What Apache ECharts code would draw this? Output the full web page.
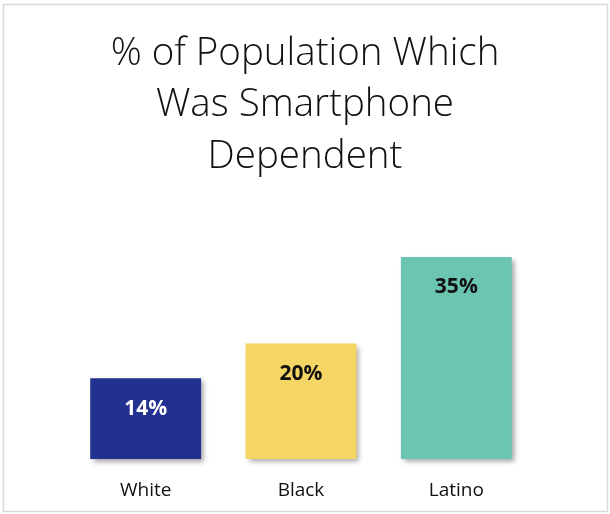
<!DOCTYPE html>
<html><head><meta charset="utf-8">
<script src="https://cdn.jsdelivr.net/npm/echarts@6/dist/echarts.min.js"></script>
<style>html,body{margin:0;padding:0;background:#fff}#c{width:610px;height:514px}</style>
</head><body><div id="c"></div>
<script>
const categories = ["White", "Black", "Latino"];
const values = [14, 20, 35];
const barColors = ["#22318F", "#F5D664", "#6BC5B0"];
const titleText = "% of Population Which\nWas Smartphone\nDependent";

const chart = echarts.init(document.getElementById('c'), null, {renderer: 'canvas'});
chart.setOption({
  animation: false,
  title: {
    text: titleText, left: 'center', top: 23,
    textStyle: {fontFamily: 'Open Sans', fontWeight: 300, fontSize: 38.5, lineHeight: 51.5, color: '#111'}
  },
  graphic: [{type: 'rect', shape: {x: 3.5, y: 4.5, width: 604, height: 507}, style: {fill: 'none', stroke: '#D9D9D9', lineWidth: 1.5}, silent: true}],
  grid: {left: 68, right: 76, top: 228, bottom: 55},
  xAxis: {
    type: 'category', data: categories,
    axisLine: {show: false}, axisTick: {show: false},
    axisLabel: {margin: 22, fontFamily: 'Open Sans', fontSize: 19, color: '#111'}
  },
  yAxis: {type: 'value', min: 0, max: 40, show: false, splitLine: {show: false}},
  series: [{
    type: 'bar', barCategoryGap: '28.6%',
    data: values.map((v, i) => ({value: v, itemStyle: {color: barColors[i]},
      label: {color: i === 0 ? '#fff' : '#111'}})),
    itemStyle: {shadowColor: 'rgba(0,0,0,0.35)', shadowBlur: 5, shadowOffsetX: 3, shadowOffsetY: 3},
    label: {show: true, position: 'insideTop', distance: 20, formatter: '{c}%',
      fontFamily: 'Open Sans', fontWeight: 'bold', fontSize: 21}
  }]
});
</script></body></html>
